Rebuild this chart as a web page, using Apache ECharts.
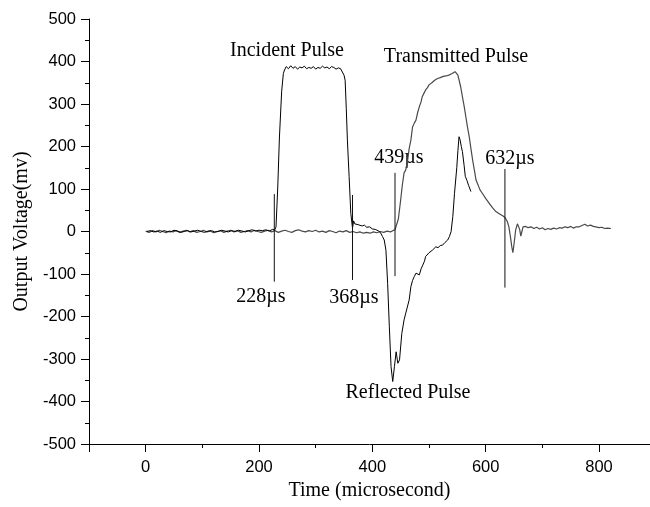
<!DOCTYPE html>
<html>
<head>
<meta charset="utf-8">
<script src="https://cdn.jsdelivr.net/npm/echarts@6/dist/echarts.min.js"></script>
<style>html,body{margin:0;padding:0;background:#fff}#c{width:650px;height:507px}</style>
</head>
<body>
<div id="c"></div>
<script>
// Black trace: incident pulse followed by reflected pulse  [time µs, mV]
const incidentReflected = [
  [2,0],[8,2],[14,-1],[20,1],[26,-2],[32,2],[38,0],[44,-1],[50,3],[56,1],[62,-2],[68,0],[74,2],[80,-1],
  [86,1],[92,3],[98,0],[104,-2],[110,1],[116,2],[122,-1],[128,0],[134,3],[140,1],[146,-1],[152,2],
  [158,0],[164,3],[170,1],[176,-1],[182,2],[188,4],[194,1],[200,3],[206,2],[212,4],[218,1],[224,5],
  [228,4],[230,11],[233,100],[236,220],[240,330],[243,372],[245,380],[248,388],[252,383],[256,390],
  [260,384],[264,388],[268,382],[272,387],[276,385],[280,389],[284,383],[288,386],[292,384],[296,388],
  [300,382],[304,386],[308,384],[312,389],[316,385],[320,387],[324,383],[328,388],[332,386],[336,382],
  [340,385],[344,383],[347,380],[350,368],[352,356],[354,290],[356,215],[359,130],[362,43],[365,8],
  [367,25],[369,18],[372,22],[375,16],[378,20],[382,13],[386,15],[390,10],[395,11],[400,6],[405,5],
  [410,2],[414,-2],[418,-12],[421,-20],[424,-44],[427,-122],[430,-224],[433,-318],[436,-353],[439,-318],
  [442,-283],[445,-310],[448,-302],[452,-240],[456,-208],[459,-192],[462,-196],[465,-161],[468,-130],
  [471,-115],[474,-106],[477,-98],[480,-94],[483,-102],[486,-88],[489,-79],[492,-70],[494,-59],[497,-55],
  [500,-50],[503,-47],[506,-44],[509,-40],[512,-36],[516,-38],[520,-33],[524,-32],[528,-26],[531,-24],
  [533,-20],[536,-12],[539,0],[542,35],[545,90],[549,150],[551,190],[553,223],[555,215],[557,200],
  [559,188],[562,155],[564,130],[567,120],[570,108],[574,94]
];
// Grey trace: transmitted pulse  [time µs, mV]
const transmitted = [
  [0,1],[6,-2],[12,2],[18,-1],[24,3],[30,0],[36,-3],[42,1],[48,-1],[54,2],[60,-2],[66,1],[72,3],[78,-1],
  [84,2],[90,-2],[96,0],[102,3],[108,-1],[114,1],[120,-3],[126,0],[132,2],[138,-2],[144,1],[150,3],
  [156,-1],[162,2],[168,-2],[174,0],[180,2],[186,-1],[192,3],[198,0],[204,-2],[210,1],[216,3],[222,-1],
  [228,2],[234,-2],[240,1],[246,3],[252,0],[258,-2],[264,2],[270,4],[276,1],[282,-1],[288,2],[294,0],
  [300,3],[306,-1],[312,1],[318,-2],[324,2],[330,0],[336,-3],[342,1],[348,-1],[354,2],[360,-2],[366,0],
  [372,-3],[378,-1],[384,-4],[390,-2],[396,-4],[402,-1],[408,-3],[414,0],[420,-2],[426,1],[432,-1],
  [436,2],[440,4],[443,5],[446,30],[450,74],[453,110],[456,138],[459,145],[462,165],[465,195],[468,215],
  [471,246],[474,255],[477,262],[480,280],[483,294],[486,305],[488,317],[491,325],[494,333],[497,338],
  [500,345],[505,350],[510,356],[515,360],[520,362],[525,365],[530,366],[535,368],[540,371],[543,373],
  [546,376],[549,372],[551,368],[553,364],[556,340],[559,317],[562,295],[565,270],[568,245],[571,223],
  [574,195],[577,168],[580,145],[583,121],[587,108],[590,98],[594,90],[600,78],[606,67],[612,56],
  [618,47],[624,42],[630,37],[634,33],[638,24],[641,11],[644,-15],[646,-35],[648,-50],[650,-30],[653,4],
  [656,18],[658,20],[660,5],[662,-11],[664,0],[666,11],[670,12],[675,9],[680,11],[685,7],[690,10],
  [695,6],[700,9],[705,4],[710,7],[715,5],[720,8],[725,6],[730,9],[735,8],[740,11],[745,9],[750,12],
  [755,8],[760,11],[765,11],[770,14],[775,17],[777,18],[780,13],[785,15],[790,12],[794,11],[800,9],
  [805,10],[810,7],[815,8],[821,7]
];
// Time markers
const markerTimes = [227, 365, 440, 634];
const markerTop = [88, 86, 138, 147];
const markerBottom = [-118, -114, -105, -132];
const markerLabels = ['228µs', '368µs', '439µs', '632µs'];
// Pulse names
const pulseNames = ['Incident Pulse', 'Transmitted Pulse', 'Reflected Pulse'];
// Axis texts
const xTitle = 'Time (microsecond)';
const yTitle = 'Output Voltage(mv)';

const serif = 'Liberation Serif';
const sans = 'Liberation Sans';

const series = [
  {type:'line', data: transmitted, showSymbol:false, lineStyle:{color:'#4a4a4a', width:1.2}, z:2},
  {type:'line', data: incidentReflected, showSymbol:false, lineStyle:{color:'#000', width:1}, z:3}
];
markerTimes.forEach((t, i) => {
  series.push({type:'line', data:[[t, markerTop[i]], [t, markerBottom[i]]], showSymbol:false,
    lineStyle:{color:'#111', width:1}, z:4});
});

const textStyle = (x, y, s) => ({type:'text', x:x, y:y,
  style:{text:s, font:'20px "' + serif + '"', fill:'#000', textAlign:'center', textVerticalAlign:'middle'}});

const graphics = [
  textStyle(287, 51, pulseNames[0]),
  textStyle(456, 57, pulseNames[1]),
  textStyle(408, 393, pulseNames[2]),
  textStyle(261, 297, markerLabels[0]),
  textStyle(354, 298, markerLabels[1]),
  textStyle(399, 158, markerLabels[2]),
  textStyle(510, 159, markerLabels[3])
];

const chart = echarts.init(document.getElementById('c'), null, {renderer:'canvas'});
chart.setOption({
  animation:false,
  backgroundColor:'#fff',
  grid:{left:89, right:0, top:19, bottom:63, containLabel:false, outerBoundsMode:'none'},
  xAxis:{type:'value', min:-100, max:890, splitNumber:5,
    name:xTitle, nameLocation:'middle', nameGap:37,
    nameTextStyle:{fontFamily:serif, fontSize:20, color:'#000'},
    axisLine:{show:true, onZero:false, lineStyle:{color:'#000', width:1}},
    axisTick:{show:true, length:8, lineStyle:{color:'#000'}},
    minorTick:{show:true, splitNumber:2, length:4, lineStyle:{color:'#000'}},
    axisLabel:{showMinLabel:false, showMaxLabel:false, fontFamily:sans, fontSize:16.5, color:'#000', margin:15},
    splitLine:{show:false}},
  yAxis:{type:'value', min:-500, max:500, interval:100,
    name:yTitle, nameLocation:'middle', nameGap:56,
    nameTextStyle:{fontFamily:serif, fontSize:20, color:'#000'},
    axisLine:{show:true, onZero:false, lineStyle:{color:'#000', width:1}},
    axisTick:{show:true, length:8, lineStyle:{color:'#000'}},
    minorTick:{show:true, splitNumber:2, length:4, lineStyle:{color:'#000'}},
    axisLabel:{fontFamily:sans, fontSize:16.5, color:'#000', margin:13},
    splitLine:{show:false}},
  series: series,
  graphic: graphics
});
</script>
</body>
</html>
